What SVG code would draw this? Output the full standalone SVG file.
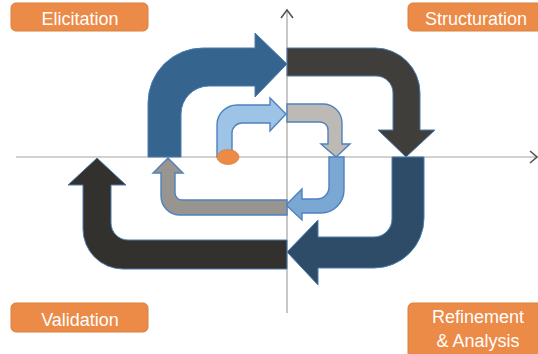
<svg xmlns="http://www.w3.org/2000/svg" width="538" height="354" viewBox="0 0 538 354">
<style>
.lbl rect{fill:#EC8A47;stroke:#D9823F;stroke-width:1}
.lbl text{fill:#fff;font-family:"Liberation Sans",Arial,sans-serif;font-size:18px;text-anchor:middle}
.axis{stroke:#A8A29C;stroke-width:1.2;fill:none}
.chev{stroke:#555350;stroke-width:1.6;fill:none}
.big{stroke:#4A7DB0;stroke-width:1}
.small{stroke:#4F81BD;stroke-width:1.4}
</style>
<rect width="538" height="354" fill="#fff"/>
<g id="axes">
<line class="axis" x1="16" y1="157" x2="536" y2="157"/>
<line class="axis" x1="287" y1="9" x2="287" y2="313"/>
<polyline class="chev" points="281,18 287,10 293,18"/>
<polyline class="chev" points="530,151 537,157 530,163"/>
</g>
<g id="connectors">
<path id="a1" class="big" fill="#35648F" d="M148,157 L148,103 A55,55 0 0 1 203,48 L255,48 L255,33 L287,64 L255,97 L255,86 L209,86 A28,28 0 0 0 181,114 L181,157 Z"/>
<path id="a2" class="big" fill="#403E3B" d="M287,48 L375,48 A45,45 0 0 1 420,93 L420,130 L435,130 L406,157 L378,130 L393,130 L393,93 A17,17 0 0 0 376,76 L287,76 Z"/>
<path id="a3" class="big" fill="#2E4B68" d="M392,157 L424,157 L424,218 A50,50 0 0 1 374,268 L318,268 L318,285 L287,252 L318,220 L318,237 L374,237 A18,18 0 0 0 392,219 Z"/>
<path id="a4" class="big" fill="#32312E" d="M287,240 L287,269 L123,269 A40,40 0 0 1 83,229 L83,185 L68,185 L97,158 L126,185 L111,185 L111,223 A17,17 0 0 0 128,240 Z"/>
<path id="a5" class="small" fill="#9DC3E6" d="M217,157 L217,125 A20,20 0 0 1 237,105 L270,105 L270,98 L286,114 L270,131 L270,123 L242,123 A10,10 0 0 0 232,133 L232,157 Z"/>
<path id="a6" class="small" fill="#BDB9B4" d="M287,104 L323,104 A19,19 0 0 1 342,123 L342,144 L350,144 L336,157 L321,144 L328,144 L328,130 A8,8 0 0 0 320,122 L287,122 Z"/>
<path id="a7" class="small" fill="#7BA7D3" d="M329,157 L344,157 L344,190 A23,23 0 0 1 321,213 L302,213 L302,220 L286,205 L302,189 L302,199 L317,199 A12,12 0 0 0 329,187 Z"/>
<path id="a8" class="small" fill="#989490" d="M287,200 L287,215 L180,215 A19,19 0 0 1 161,196 L161,173 L153,173 L168,158 L183,173 L175,173 L175,193 A7,7 0 0 0 182,200 Z"/>
</g>
<g id="start">
<ellipse cx="228" cy="157" rx="11" ry="7.5" fill="#EC8A47" stroke="#D9823F" stroke-width="0.8"/>
</g>
<g id="elicitation" class="lbl">
<rect x="11" y="3" width="137" height="28" rx="5"/>
<text x="80" y="25">Elicitation</text>
</g>
<g id="structuration" class="lbl">
<rect x="408" y="3" width="137" height="28" rx="5"/>
<text x="476" y="25">Structuration</text>
</g>
<g id="validation" class="lbl">
<rect x="11" y="303" width="137" height="29" rx="5"/>
<text x="80" y="326">Validation</text>
</g>
<g id="refinement" class="lbl">
<rect x="408" y="303" width="137" height="56" rx="5"/>
<text x="478" y="323">Refinement</text>
<text x="478" y="347">&amp; Analysis</text>
</g>
</svg>
